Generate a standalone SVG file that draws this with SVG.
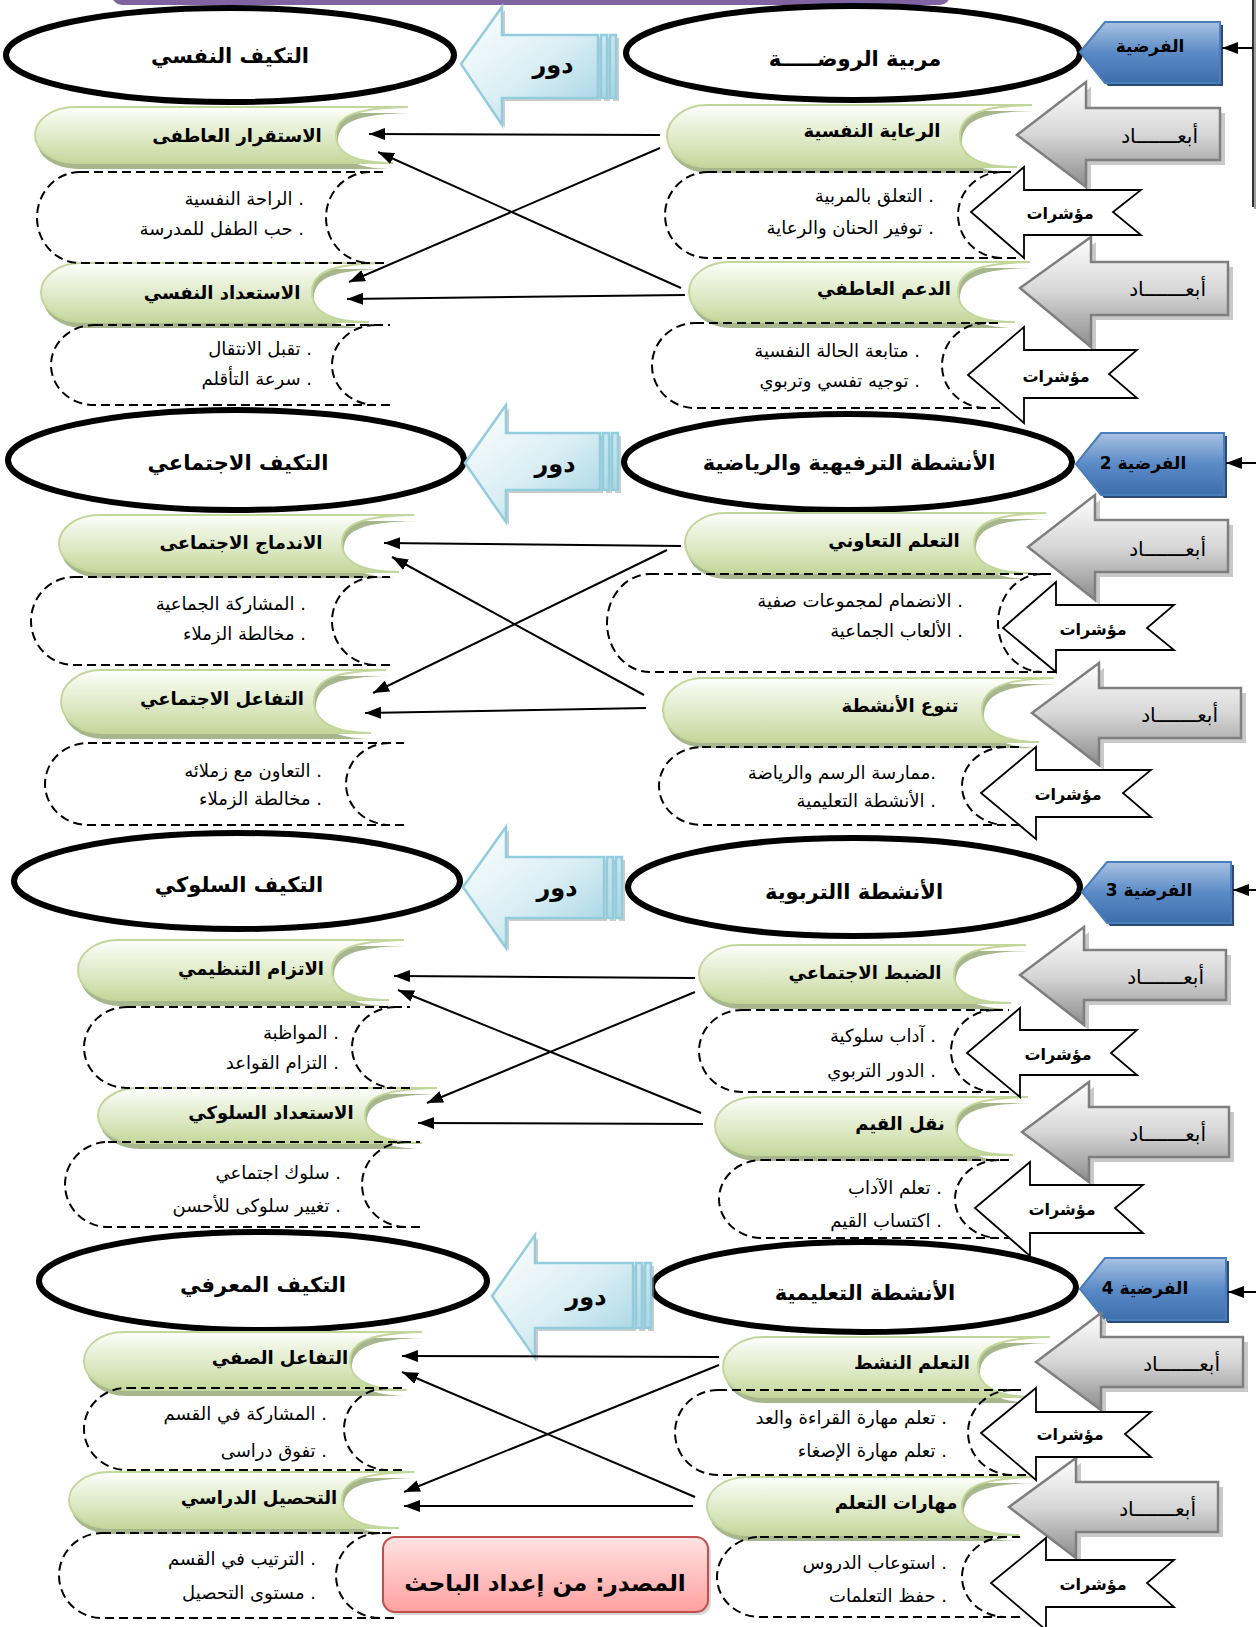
<svg xmlns="http://www.w3.org/2000/svg" width="1256" height="1627" viewBox="0 0 1256 1627">
<defs>
<linearGradient id="gGreen" x1="0" y1="0" x2="0" y2="1"><stop offset="0" stop-color="#FFFFFF"/><stop offset="0.2" stop-color="#F1F6E6"/><stop offset="0.6" stop-color="#DCE8C3"/><stop offset="1" stop-color="#C4D79B"/></linearGradient>
<linearGradient id="gGrey" x1="0" y1="0" x2="0" y2="1"><stop offset="0" stop-color="#FFFFFF"/><stop offset="0.5" stop-color="#D6D6D6"/><stop offset="1" stop-color="#8C8C8C"/></linearGradient>
<linearGradient id="gBlue" x1="0" y1="0" x2="0" y2="1"><stop offset="0" stop-color="#A9C2E2"/><stop offset="0.5" stop-color="#5B8BC7"/><stop offset="1" stop-color="#3D6EAC"/></linearGradient>
<linearGradient id="gCyan" x1="0" y1="0" x2="1" y2="1"><stop offset="0" stop-color="#FFFFFF"/><stop offset="0.5" stop-color="#DAEEF4"/><stop offset="1" stop-color="#95CEDF"/></linearGradient>
<linearGradient id="gPink" x1="0" y1="0" x2="0" y2="1"><stop offset="0" stop-color="#FFE3E3"/><stop offset="1" stop-color="#FFA0A0"/></linearGradient>
<marker id="ah" markerWidth="16" markerHeight="12" refX="16" refY="6" orient="auto" markerUnits="userSpaceOnUse"><path d="M0,0 L16,6 L0,12 Z" fill="#000"/></marker>
<style>
.ell{fill:#fff;stroke:#000;stroke-width:6}
.scr{fill:url(#gGreen);stroke:#C3D69B;stroke-width:2}
.scrsh{fill:#A7B68C}
.dash{fill:none;stroke:#000;stroke-width:2;stroke-dasharray:9 5}
.grey{fill:url(#gGrey);stroke:#7F7F7F;stroke-width:2.5}
.greysh{fill:#C9C9C9}
.wht{fill:#fff;stroke:#000;stroke-width:1.8}
.blue{fill:url(#gBlue);stroke:#4A7EBB;stroke-width:2}
.bluesh{fill:#2C4A74}
.dor{fill:url(#gCyan);stroke:#93CDDD;stroke-width:2.5}
.dorsh{fill:#9A9A9A;opacity:.5}
.conn{stroke:#000;stroke-width:2;fill:none;marker-end:url(#ah)}
text{font-family:'DejaVu Sans',sans-serif;direction:rtl;fill:#000}
.te{font-size:21px;font-weight:bold;text-anchor:middle}
.ts{font-size:18px;font-weight:bold;text-anchor:middle}
.ti{font-size:18px;text-anchor:start}
.ta{font-size:20px;text-anchor:start}
.tm{font-size:16px;font-weight:bold;text-anchor:middle}
.td{font-size:24px;font-weight:bold;text-anchor:middle}
.th{font-size:17px;font-weight:bold;text-anchor:middle}
</style>
<path id="pS1L1" d="M75,107 H408 C358,108 336,115 336,135 C336,155 358,163 393,163 H75 A40,28 0 0 1 75,107 Z"/>
<path id="pS1L2" d="M81,263 H384 C334,264 312,271 312,292 C312,313 334,322 369,322 H81 A40,29.5 0 0 1 81,263 Z"/>
<path id="pS1R1" d="M707,105 H1032 C982,106 960,114 960,136 C960,158 982,167 1017,167 H707 A40,31 0 0 1 707,105 Z"/>
<path id="pS1R2" d="M729,262 H1030 C980,263 958,271 958,292 C958,313 980,322 1015,322 H729 A40,30 0 0 1 729,262 Z"/>
<path id="pS2L1" d="M99,515 H414 C364,516 342,523 342,543 C342,563 364,572 399,572 H99 A40,28.5 0 0 1 99,515 Z"/>
<path id="pS2L2" d="M101,670 H386 C336,671 314,679 314,701 C314,723 336,733 371,733 H101 A40,31.5 0 0 1 101,670 Z"/>
<path id="pS2R1" d="M725,513 H1046 C996,514 974,522 974,543 C974,564 996,573 1031,573 H725 A40,30 0 0 1 725,513 Z"/>
<path id="pS2R2" d="M703,678 H1054 C1004,679 982,688 982,710 C982,732 1004,742 1039,742 H703 A40,32 0 0 1 703,678 Z"/>
<path id="pS3L1" d="M118,940 H404 C354,941 332,949 332,970 C332,991 354,1000 389,1000 H118 A40,30 0 0 1 118,940 Z"/>
<path id="pS3L2" d="M138,1088 H437 C387,1089 365,1096 365,1115 C365,1134 387,1143 422,1143 H138 A40,27.5 0 0 1 138,1088 Z"/>
<path id="pS3R1" d="M739,945 H1026 C976,946 954,954 954,974 C954,994 976,1003 1011,1003 H739 A40,29 0 0 1 739,945 Z"/>
<path id="pS3R2" d="M755,1097 H1028 C978,1098 956,1106 956,1126 C956,1146 978,1155 1013,1155 H755 A40,29 0 0 1 755,1097 Z"/>
<path id="pS4L1" d="M124,1332 H422 C372,1333 350,1341 350,1361 C350,1381 372,1390 407,1390 H124 A40,29 0 0 1 124,1332 Z"/>
<path id="pS4L2" d="M109,1472 H414 C364,1473 342,1480 342,1500 C342,1520 364,1528 399,1528 H109 A40,28 0 0 1 109,1472 Z"/>
<path id="pS4R1" d="M763,1337 H1050 C1000,1338 978,1346 978,1367 C978,1388 1000,1397 1035,1397 H763 A40,30 0 0 1 763,1337 Z"/>
<path id="pS4R2" d="M747,1477 H1034 C984,1478 962,1486 962,1506 C962,1526 984,1535 1019,1535 H747 A40,29 0 0 1 747,1477 Z"/>
<path id="pG1a" d="M1017,135 L1086,82 L1086,108 L1220,108 L1220,160 L1086,160 L1086,187 Z"/>
<path id="pG1b" d="M1020,288 L1091,237 L1091,262 L1228,262 L1228,315 L1091,315 L1091,347 Z"/>
<path id="pG2a" d="M1028,547 L1095,495 L1095,520 L1228,520 L1228,572 L1095,572 L1095,600 Z"/>
<path id="pG2b" d="M1032,713 L1099,663 L1099,688 L1241,688 L1241,738 L1099,738 L1099,765 Z"/>
<path id="pG3a" d="M1020,975 L1084,927 L1084,950 L1226,950 L1226,1000 L1084,1000 L1084,1025 Z"/>
<path id="pG3b" d="M1022,1132 L1089,1082 L1089,1107 L1229,1107 L1229,1157 L1089,1157 L1089,1182 Z"/>
<path id="pG4a" d="M1036,1362 L1101,1313 L1101,1337 L1243,1337 L1243,1387 L1101,1387 L1101,1410 Z"/>
<path id="pG4b" d="M1009,1507 L1076,1458 L1076,1482 L1218,1482 L1218,1532 L1076,1532 L1076,1558 Z"/>
<path id="pB1" d="M1080,52 L1105,22 H1220 V83 H1105 Z"/>
<path id="pB2" d="M1076,464 L1101,433 H1224 V495 H1101 Z"/>
<path id="pB3" d="M1082,892 L1107,862 H1231 V923 H1107 Z"/>
<path id="pB4" d="M1080,1289 L1105,1258 H1226 V1320 H1105 Z"/>
<path id="pR1" d="M461,64 L502,7 L502,35 L598,35 L598,98 L502,98 L502,125 Z M601,35 h6 v63 h-6 Z M610,35 h6 v63 h-6 Z"/>
<path id="pR2" d="M465,463 L506,405 L506,433 L600,433 L600,490 L506,490 L506,522 Z M603,433 h6 v57 h-6 Z M612,433 h6 v57 h-6 Z"/>
<path id="pR3" d="M463,887 L506,827 L506,857 L604,857 L604,918 L506,918 L506,948 Z M607,857 h6 v61 h-6 Z M616,857 h6 v61 h-6 Z"/>
<path id="pR4" d="M492,1296 L535,1235 L535,1263 L633,1263 L633,1328 L535,1328 L535,1358 Z M636,1263 h6 v65 h-6 Z M645,1263 h6 v65 h-6 Z"/>
</defs>

<rect x="112" y="-20" width="838" height="25" rx="10" fill="#8064A2"/>
<g id="frame-line"><line x1="1255" y1="0" x2="1255" y2="209" stroke="#A0A0A0" stroke-width="2"/><line x1="1253" y1="0" x2="1253" y2="207" stroke="#000" stroke-width="1.6"/></g>

<!-- ===== Section 1 ===== -->
<g id="adapt-psych"><ellipse class="ell" cx="230" cy="55" rx="224" ry="47"/><text class="te" x="230" y="63">التكيف النفسي</text></g>
<g id="kindergarten-teacher"><ellipse class="ell" cx="853" cy="53" rx="227" ry="47"/><text class="te" x="855" y="66">مربية الروضـــــة</text></g>
<g id="role1"><use href="#pR1" class="dorsh" transform="translate(3,3)"/><use href="#pR1" class="dor"/><text class="td" x="553" y="73">دور</text></g>
<g id="hyp1"><use href="#pB1" class="bluesh" transform="translate(3,3)"/><use href="#pB1" class="blue"/><text class="th" x="1150" y="52">الفرضية</text></g>

<g id="dim-care"><use href="#pS1R1" class="scrsh" transform="translate(2,6)"/><use href="#pS1R1" class="scr"/><text class="ts" x="872" y="137">الرعاية النفسية</text></g>
<g id="dim-support"><use href="#pS1R2" class="scrsh" transform="translate(2,6)"/><use href="#pS1R2" class="scr"/><text class="ts" x="884" y="295">الدعم العاطفي</text></g>
<g id="out-stability"><use href="#pS1L1" class="scrsh" transform="translate(2,6)"/><use href="#pS1L1" class="scr"/><text class="ts" x="237" y="142">الاستقرار العاطفى</text></g>
<g id="out-readiness"><use href="#pS1L2" class="scrsh" transform="translate(2,6)"/><use href="#pS1L2" class="scr"/><text class="ts" x="222" y="299">الاستعداد النفسي</text></g>

<g id="ind-care"><path class="dash" d="M708,172 H1016 M1002,172 A44,43 0 0 0 1002,258 M1016,258 H708 A43,43 0 0 1 708,172"/><text class="ti" x="934" y="202">. التعلق بالمربية</text><text class="ti" x="934" y="234">. توفير الحنان والرعاية</text></g>
<g id="ind-support"><path class="dash" d="M695,323 H1000 M986,323 A44,42.5 0 0 0 986,408 M1000,408 H695 A43,42.5 0 0 1 695,323"/><text class="ti" x="920" y="357">. متابعة الحالة النفسية</text><text class="ti" x="920" y="387">. توجيه تفسي وتربوي</text></g>
<g id="ind-stability"><path class="dash" d="M80,172 H384 M370,172 A44,45.5 0 0 0 370,263 M384,263 H80 A43,45.5 0 0 1 80,172"/><text class="ti" x="304" y="205">. الراحة النفسية</text><text class="ti" x="304" y="235">. حب الطفل للمدرسة</text></g>
<g id="ind-readiness"><path class="dash" d="M94,325 H390 M376,325 A44,40 0 0 0 376,405 M390,405 H94 A43,40 0 0 1 94,325"/><text class="ti" x="312" y="355">. تقبل الانتقال</text><text class="ti" x="312" y="385">. سرعة التأقلم</text></g>

<g id="abaad1a"><use href="#pG1a" class="greysh" transform="translate(5,5)"/><use href="#pG1a" class="grey"/><text class="ta" x="1198" y="143">أبعـــــــاد</text></g>
<g id="abaad1b"><use href="#pG1b" class="greysh" transform="translate(5,5)"/><use href="#pG1b" class="grey"/><text class="ta" x="1206" y="296">أبعـــــــاد</text></g>
<g id="mo1a"><path class="wht" d="M971,212 L1024,167 L1024,190 L1141,190 L1113,212 L1141,235 L1024,235 L1024,258 Z"/><text class="tm" x="1060" y="219">مؤشرات</text></g>
<g id="mo1b"><path class="wht" d="M968,375 L1024,327 L1024,350 L1137,350 L1109,374 L1137,398 L1024,398 L1024,423 Z"/><text class="tm" x="1056" y="382">مؤشرات</text></g>

<!-- ===== Section 2 ===== -->
<g id="adapt-social"><ellipse class="ell" cx="236" cy="460" rx="228" ry="50"/><text class="te" x="238" y="470">التكيف الاجتماعي</text></g>
<g id="recreational"><ellipse class="ell" cx="848" cy="462" rx="224" ry="48"/><text class="te" x="849" y="470">الأنشطة الترفيهية والرياضية</text></g>
<g id="role2"><use href="#pR2" class="dorsh" transform="translate(3,3)"/><use href="#pR2" class="dor"/><text class="td" x="555" y="472">دور</text></g>
<g id="hyp2"><use href="#pB2" class="bluesh" transform="translate(3,3)"/><use href="#pB2" class="blue"/><text class="th" x="1143" y="469">الفرضية 2</text></g>

<g id="dim-coop"><use href="#pS2R1" class="scrsh" transform="translate(2,6)"/><use href="#pS2R1" class="scr"/><text class="ts" x="894" y="547">التعلم التعاوني</text></g>
<g id="dim-variety"><use href="#pS2R2" class="scrsh" transform="translate(2,6)"/><use href="#pS2R2" class="scr"/><text class="ts" x="900" y="712">تنوع الأنشطة</text></g>
<g id="out-integration"><use href="#pS2L1" class="scrsh" transform="translate(2,6)"/><use href="#pS2L1" class="scr"/><text class="ts" x="241" y="549">الاندماج الاجتماعى</text></g>
<g id="out-interaction"><use href="#pS2L2" class="scrsh" transform="translate(2,6)"/><use href="#pS2L2" class="scr"/><text class="ts" x="222" y="705">التفاعل الاجتماعي</text></g>

<g id="ind-coop"><path class="dash" d="M650,574 H1056 M1042,574 A44,49 0 0 0 1042,672 M1056,672 H650 A43,49 0 0 1 650,574"/><text class="ti" x="963" y="607">. الانضمام لمجموعات صفية</text><text class="ti" x="963" y="637">. الألعاب الجماعية</text></g>
<g id="ind-variety"><path class="dash" d="M702,747 H1020 M1006,747 A44,39 0 0 0 1006,825 M1020,825 H702 A43,39 0 0 1 702,747"/><text class="ti" x="936" y="779">.ممارسة الرسم والرياضة</text><text class="ti" x="936" y="807">. الأنشطة التعليمية</text></g>
<g id="ind-integration"><path class="dash" d="M74,577 H390 M376,577 A44,44 0 0 0 376,665 M390,665 H74 A43,44 0 0 1 74,577"/><text class="ti" x="306" y="610">. المشاركة الجماعية</text><text class="ti" x="306" y="640">. مخالطة الزملاء</text></g>
<g id="ind-interaction"><path class="dash" d="M88,743 H404 M390,743 A44,41 0 0 0 390,825 M404,825 H88 A43,41 0 0 1 88,743"/><text class="ti" x="322" y="777">. التعاون مع زملائه</text><text class="ti" x="322" y="805">. مخالطة الزملاء</text></g>

<g id="abaad2a"><use href="#pG2a" class="greysh" transform="translate(5,5)"/><use href="#pG2a" class="grey"/><text class="ta" x="1206" y="556">أبعـــــــاد</text></g>
<g id="abaad2b"><use href="#pG2b" class="greysh" transform="translate(5,5)"/><use href="#pG2b" class="grey"/><text class="ta" x="1218" y="722">أبعـــــــاد</text></g>
<g id="mo2a"><path class="wht" d="M1003,628 L1056,582 L1056,605 L1174,605 L1147,628 L1174,650 L1056,650 L1056,672 Z"/><text class="tm" x="1093" y="635">مؤشرات</text></g>
<g id="mo2b"><path class="wht" d="M981,793 L1036,747 L1036,770 L1151,770 L1123,793 L1151,817 L1036,817 L1036,839 Z"/><text class="tm" x="1068" y="800">مؤشرات</text></g>

<!-- ===== Section 3 ===== -->
<g id="adapt-behav"><ellipse class="ell" cx="237" cy="881" rx="223" ry="48"/><text class="te" x="239" y="892">التكيف السلوكي</text></g>
<g id="educational"><ellipse class="ell" cx="854" cy="887" rx="226" ry="49"/><text class="te" x="854" y="899">الأنشطة االتربوية</text></g>
<g id="role3"><use href="#pR3" class="dorsh" transform="translate(3,3)"/><use href="#pR3" class="dor"/><text class="td" x="557" y="896">دور</text></g>
<g id="hyp3"><use href="#pB3" class="bluesh" transform="translate(3,3)"/><use href="#pB3" class="blue"/><text class="th" x="1149" y="896">الفرضية 3</text></g>

<g id="dim-control"><use href="#pS3R1" class="scrsh" transform="translate(2,6)"/><use href="#pS3R1" class="scr"/><text class="ts" x="865" y="979">الضبط الاجتماعي</text></g>
<g id="dim-values"><use href="#pS3R2" class="scrsh" transform="translate(2,6)"/><use href="#pS3R2" class="scr"/><text class="ts" x="900" y="1130">نقل القيم</text></g>
<g id="out-discipline"><use href="#pS3L1" class="scrsh" transform="translate(2,6)"/><use href="#pS3L1" class="scr"/><text class="ts" x="251" y="975">الاتزام التنظيمي</text></g>
<g id="out-behav-ready"><use href="#pS3L2" class="scrsh" transform="translate(2,6)"/><use href="#pS3L2" class="scr"/><text class="ts" x="271" y="1119">الاستعداد السلوكي</text></g>

<g id="ind-control"><path class="dash" d="M742,1010 H1009 M995,1010 A44,41 0 0 0 995,1092 M1009,1092 H742 A43,41 0 0 1 742,1010"/><text class="ti" x="936" y="1042">. آداب سلوكية</text><text class="ti" x="936" y="1077">. الدور التربوي</text></g>
<g id="ind-values"><path class="dash" d="M762,1160 H1013 M999,1160 A44,39 0 0 0 999,1238 M1013,1238 H762 A43,39 0 0 1 762,1160"/><text class="ti" x="942" y="1194">. تعلم الآداب</text><text class="ti" x="942" y="1227">. اكتساب القيم</text></g>
<g id="ind-discipline"><path class="dash" d="M127,1007 H410 M396,1007 A44,40.5 0 0 0 396,1088 M410,1088 H127 A43,40.5 0 0 1 127,1007"/><text class="ti" x="339" y="1039">. المواظبة</text><text class="ti" x="339" y="1069">. التزام القواعد</text></g>
<g id="ind-behav-ready"><path class="dash" d="M108,1142 H420 M406,1142 A44,42.5 0 0 0 406,1227 M420,1227 H108 A43,42.5 0 0 1 108,1142"/><text class="ti" x="341" y="1179">. سلوك اجتماعي</text><text class="ti" x="341" y="1212">. تغيير سلوكى للأحسن</text></g>

<g id="abaad3a"><use href="#pG3a" class="greysh" transform="translate(5,5)"/><use href="#pG3a" class="grey"/><text class="ta" x="1204" y="984">أبعـــــــاد</text></g>
<g id="abaad3b"><use href="#pG3b" class="greysh" transform="translate(5,5)"/><use href="#pG3b" class="grey"/><text class="ta" x="1206" y="1141">أبعـــــــاد</text></g>
<g id="mo3a"><path class="wht" d="M967,1053 L1020,1008 L1020,1030 L1137,1030 L1111,1053 L1137,1075 L1020,1075 L1020,1097 Z"/><text class="tm" x="1058" y="1060">مؤشرات</text></g>
<g id="mo3b"><path class="wht" d="M975,1208 L1030,1162 L1030,1185 L1143,1185 L1115,1208 L1143,1233 L1030,1233 L1030,1256 Z"/><text class="tm" x="1062" y="1215">مؤشرات</text></g>

<!-- ===== Section 4 ===== -->
<g id="adapt-cogn"><ellipse class="ell" cx="263" cy="1281" rx="224" ry="49"/><text class="te" x="263" y="1292">التكيف المعرفي</text></g>
<g id="teaching"><ellipse class="ell" cx="864" cy="1287" rx="212" ry="45"/><text class="te" x="865" y="1300">الأنشطة التعليمية</text></g>
<g id="role4"><use href="#pR4" class="dorsh" transform="translate(3,3)"/><use href="#pR4" class="dor"/><text class="td" x="586" y="1305">دور</text></g>
<g id="hyp4"><use href="#pB4" class="bluesh" transform="translate(3,3)"/><use href="#pB4" class="blue"/><text class="th" x="1145" y="1294">الفرضية 4</text></g>

<g id="dim-active"><use href="#pS4R1" class="scrsh" transform="translate(2,6)"/><use href="#pS4R1" class="scr"/><text class="ts" x="912" y="1369">التعلم النشط</text></g>
<g id="dim-skills"><use href="#pS4R2" class="scrsh" transform="translate(2,6)"/><use href="#pS4R2" class="scr"/><text class="ts" x="896" y="1509">مهارات التعلم</text></g>
<g id="out-class"><use href="#pS4L1" class="scrsh" transform="translate(2,6)"/><use href="#pS4L1" class="scr"/><text class="ts" x="280" y="1364">التفاعل الصفي</text></g>
<g id="out-achieve"><use href="#pS4L2" class="scrsh" transform="translate(2,6)"/><use href="#pS4L2" class="scr"/><text class="ts" x="259" y="1504">التحصيل الدراسي</text></g>

<g id="ind-active"><path class="dash" d="M718,1390 H1026 M1012,1390 A44,42.5 0 0 0 1012,1475 M1026,1475 H718 A43,42.5 0 0 1 718,1390"/><text class="ti" x="947" y="1424">. تعلم مهارة القراءة والعد</text><text class="ti" x="947" y="1457">. تعلم مهارة الإصغاء</text></g>
<g id="ind-skills"><path class="dash" d="M760,1537 H1020 M1006,1537 A44,40 0 0 0 1006,1617 M1020,1617 H760 A43,40 0 0 1 760,1537"/><text class="ti" x="947" y="1569">. استوعاب الدروس</text><text class="ti" x="947" y="1602">. حفظ التعلمات</text></g>
<g id="ind-class"><path class="dash" d="M127,1388 H402 M388,1388 A44,41 0 0 0 388,1470 M402,1470 H127 A43,41 0 0 1 127,1388"/><text class="ti" x="327" y="1420">. المشاركة في القسم</text><text class="ti" x="327" y="1457">. تفوق دراسى</text></g>
<g id="ind-achieve"><path class="dash" d="M102,1533 H394 M380,1533 A44,42.5 0 0 0 380,1618 M394,1618 H102 A43,42.5 0 0 1 102,1533"/><text class="ti" x="316" y="1565">. الترتيب في القسم</text><text class="ti" x="316" y="1599">. مستوى التحصيل</text></g>

<g id="abaad4a"><use href="#pG4a" class="greysh" transform="translate(5,5)"/><use href="#pG4a" class="grey"/><text class="ta" x="1220" y="1371">أبعـــــــاد</text></g>
<g id="abaad4b"><use href="#pG4b" class="greysh" transform="translate(5,5)"/><use href="#pG4b" class="grey"/><text class="ta" x="1196" y="1516">أبعـــــــاد</text></g>
<g id="mo4a"><path class="wht" d="M981,1433 L1036,1388 L1036,1412 L1151,1412 L1125,1434 L1151,1457 L1036,1457 L1036,1480 Z"/><text class="tm" x="1070" y="1440">مؤشرات</text></g>
<g id="mo4b"><path class="wht" d="M991,1583 L1046,1538 L1046,1560 L1174,1560 L1147,1583 L1174,1607 L1046,1607 L1046,1630 Z"/><text class="tm" x="1093" y="1590">مؤشرات</text></g>

<g id="source"><rect x="386" y="1540" width="325" height="75" rx="12" fill="#B0B0B0" opacity="0.5"/><rect x="383" y="1537" width="325" height="75" rx="12" fill="url(#gPink)" stroke="#C0504D" stroke-width="2"/><text class="te" x="545" y="1591" style="font-size:23px">المصدر: من إعداد الباحث</text></g>

<g id="connectors">
<line class="conn" x1="1253" y1="48" x2="1222" y2="48"/>
<line class="conn" x1="1256" y1="463" x2="1226" y2="463"/>
<line class="conn" x1="1256" y1="890" x2="1233" y2="890"/>
<line class="conn" x1="1256" y1="1292" x2="1228" y2="1292"/>
<line class="conn" x1="660" y1="135" x2="369" y2="134"/>
<line class="conn" x1="660" y1="148" x2="349" y2="282"/>
<line class="conn" x1="681" y1="288" x2="378" y2="152"/>
<line class="conn" x1="685" y1="295" x2="347" y2="299"/>
<line class="conn" x1="681" y1="546" x2="384" y2="543"/>
<line class="conn" x1="667" y1="550" x2="373" y2="693"/>
<line class="conn" x1="644" y1="695" x2="392" y2="557"/>
<line class="conn" x1="646" y1="708" x2="365" y2="713"/>
<line class="conn" x1="695" y1="978" x2="394" y2="976"/>
<line class="conn" x1="695" y1="992" x2="427" y2="1103"/>
<line class="conn" x1="701" y1="1113" x2="398" y2="990"/>
<line class="conn" x1="703" y1="1124" x2="418" y2="1123"/>
<line class="conn" x1="719" y1="1357" x2="402" y2="1356"/>
<line class="conn" x1="719" y1="1365" x2="404" y2="1492"/>
<line class="conn" x1="695" y1="1497" x2="402" y2="1372"/>
<line class="conn" x1="693" y1="1506" x2="404" y2="1506"/>
</g>
</svg>
